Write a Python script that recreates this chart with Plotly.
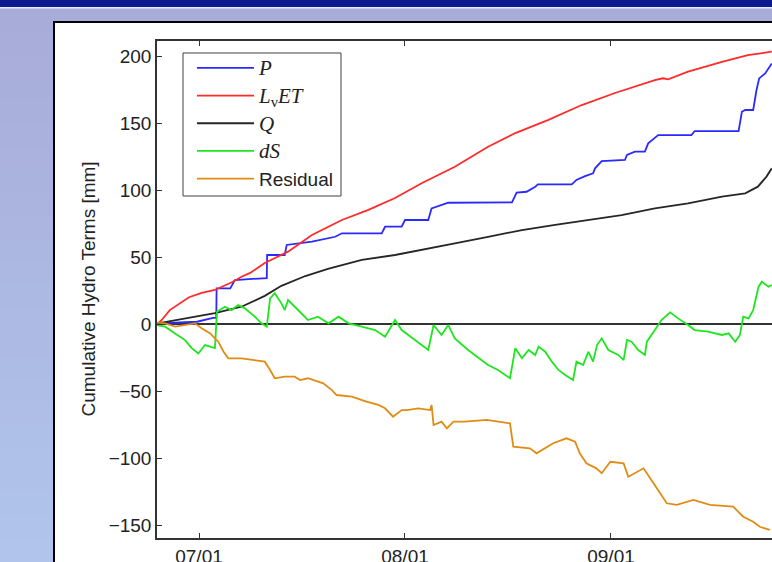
import pandas as pd
import plotly.graph_objects as go

# Cumulative hydrological terms over the 2011 growing season.
# Time axis is day of year (DOY); values are cumulative mm.
YEAR_START = pd.Timestamp("2011-01-01")

doy_P = [175.7, 181.7, 184.1, 184.6, 184.65, 186.7, 187.4, 191.9, 192.2, 192.25, 194.9, 195.2,
         196.9, 199.0, 202.5, 203.5, 209.5, 210.0, 212.5, 213.0, 216.5, 217.0, 219.5, 229.1,
         229.8, 231.3, 232.6, 233.0, 238.1, 238.8, 240.1, 241.3, 241.6, 242.6, 246.1, 246.4,
         247.6, 249.1, 249.6, 250.6, 251.1, 256.1, 256.6, 263.2, 263.7, 264.2, 265.4, 265.9,
         266.3, 267.2, 268.2]
P = [0.5, 1.7, 4.5, 4.5, 26.6, 26.6, 32.8, 33.8, 34.3, 51.5, 51.5, 59.0,
     60.2, 61.4, 65.1, 67.7, 67.7, 72.6, 72.6, 77.6, 77.6, 86.3, 90.5, 90.8,
     98.0, 98.7, 102.5, 104.2, 104.2, 107.5, 110.4, 112.4, 116.2, 121.6, 122.4, 126.1,
     128.6, 128.6, 134.8, 139.1, 141.0, 141.0, 144.0, 144.0, 158.4, 159.7, 159.7, 174.6,
     183.3, 187.0, 194.5]

doy_ET = [175.8, 176.4, 177.6, 180.5, 182.4, 184.4, 187.1, 188.4, 189.7, 191.9, 195.4, 199.0,
          203.5, 207.4, 211.5, 215.5, 220.5, 225.5, 229.6, 234.5, 239.6, 244.6, 250.6, 251.8,
          252.6, 255.6, 260.7, 264.6, 268.2]
LvET = [0.0, 3.0, 10.4, 20.0, 23.2, 25.4, 31.5, 35.3, 38.1, 45.5, 54.0, 66.4,
        77.6, 85.0, 94.0, 105.0, 117.4, 132.3, 142.5, 152.2, 163.4, 172.4, 182.0, 183.4,
        182.6, 188.3, 195.7, 200.7, 203.2]

doy_Q = [175.8, 180.3, 184.4, 188.4, 191.9, 194.4, 198.0, 201.4, 206.5, 211.5, 215.5, 220.5,
         225.5, 230.6, 235.6, 240.6, 245.6, 250.6, 255.6, 260.7, 264.2, 266.1, 267.4, 268.2]
Q = [0.5, 4.5, 8.2, 12.9, 21.0, 28.5, 35.8, 41.2, 47.8, 51.5, 55.2, 60.2,
     65.1, 70.1, 73.9, 77.6, 81.3, 86.3, 90.1, 95.0, 97.5, 102.5, 110.0, 116.2]

doy_dS = [175.6, 176.9, 178.4, 179.9, 180.9, 181.9, 182.9, 183.9, 184.4, 184.7, 185.9, 186.9,
          187.9, 188.9, 190.4, 191.4, 192.2, 192.7, 193.4, 194.4, 194.9, 195.4, 196.9, 198.4,
          199.9, 201.5, 203.0, 204.5, 206.5, 208.5, 210.0, 211.5, 212.5, 214.5, 216.5, 217.3,
          218.5, 219.5, 220.5, 222.5, 225.5, 227.0, 228.8, 229.6, 230.6, 231.6, 232.6, 233.1,
          234.1, 235.1, 236.1, 237.1, 238.3, 238.8, 239.8, 240.6, 241.3, 241.9, 242.6, 243.6,
          245.1, 245.9, 246.4, 247.1, 248.1, 249.1, 249.4, 250.6, 251.6, 252.9, 254.1, 255.6,
          256.6, 258.6, 260.7, 261.7, 262.7, 263.4, 263.9, 264.7, 265.4, 266.2, 266.7, 267.7,
          268.2]
dS = [-0.7, -2.0, -7.0, -12.0, -18.0, -22.0, -15.7, -17.0, -18.0, 9.2, 12.9, 10.4,
      14.2, 11.7, 5.5, 0.5, -2.0, 19.2, 22.9, 15.4, 10.4, 17.9, 10.4, 3.0,
      5.5, 0.5, 5.5, 0.5, -2.0, -4.5, -9.5, 3.0, -4.5, -12.0, -19.4, -0.7,
      -8.2, -0.7, -10.7, -19.4, -30.6, -34.3, -40.5, -18.1, -25.6, -19.4, -23.1, -16.9,
      -20.7, -28.1, -34.3, -38.1, -41.8, -28.1, -30.6, -20.7, -28.1, -15.7, -10.7, -19.4,
      -23.1, -26.9, -11.9, -13.2, -19.4, -23.1, -13.2, -4.5, 3.0, 8.7, 4.2, -0.7,
      -4.5, -5.7, -8.2, -7.0, -13.2, -8.2, 5.5, 4.2, 10.4, 27.8, 31.6, 27.8,
      29.1]

doy_R = [175.6, 176.9, 178.4, 179.9, 181.4, 182.4, 183.7, 184.4, 184.9, 185.7, 186.4, 188.4,
         190.4, 191.9, 192.7, 193.4, 194.9, 196.4, 197.2, 198.4, 200.7, 202.0, 202.7, 205.0,
         207.2, 209.0, 210.0, 211.2, 212.5, 213.3, 215.0, 216.8, 217.0, 217.3, 218.5, 219.3,
         220.3, 222.0, 225.3, 228.8, 229.3, 231.8, 232.8, 235.3, 237.3, 238.6, 239.3, 240.3,
         241.8, 242.6, 243.9, 245.9, 246.6, 248.9, 250.4, 252.4, 253.9, 256.4, 258.9, 262.4,
         263.9, 265.4, 266.4, 267.9]
Residual = [1.0, 0.5, -2.0, -0.7, 0.5, -3.2, -7.0, -10.7, -13.2, -20.7, -25.6, -25.6,
            -26.9, -28.1, -34.3, -40.5, -39.3, -39.3, -41.8, -40.5, -44.3, -49.3, -53.0, -54.2,
            -58.0, -60.4, -62.9, -69.2, -64.2, -64.2, -62.9, -64.2, -60.4, -75.4, -72.9, -77.9,
            -72.9, -72.9, -71.6, -74.1, -91.6, -92.8, -96.5, -89.0, -85.3, -87.8, -96.5, -104.0,
            -107.7, -111.4, -102.8, -104.0, -114.0, -107.7, -118.9, -133.8, -135.0, -131.3, -135.0, -136.3,
            -143.8, -147.6, -151.3, -153.7]


def to_dates(doy):
    return YEAR_START + pd.to_timedelta([d - 1 for d in doy], unit="D")


SERIF = "'Liberation Serif', 'DejaVu Serif', serif"


def serif(label):
    return "<span style=\"font-family:%s;font-size:21px\">%s</span>" % (SERIF, label)


series = [
    (serif("<i>P</i>"), doy_P, P, "#2a2aff"),
    (serif("<i>L</i><sub>v</sub><i>ET</i>"), doy_ET, LvET, "#ff2a2a"),
    (serif("<i>Q</i>"), doy_Q, Q, "#262626"),
    (serif("<i>dS</i>"), doy_dS, dS, "#1ee61e"),
    ("Residual", doy_R, Residual, "#e08c14"),
]

fig = go.Figure()
for name, doy, vals, color in series:
    fig.add_trace(go.Scatter(
        x=to_dates(doy), y=vals, mode="lines", name=name,
        line=dict(color=color, width=1.8),
    ))

# plot-area geometry in pixels, used to place the slide decorations
W, H = 772, 562
L, R, T, B = 157, 0, 41, 24
pw, ph = W - L - R, H - T - B


def px(xp):
    return (xp - L) / pw


def py(yp):
    return (H - B - yp) / ph


shapes = []
# slide background: lavender with a soft vertical gradient
top_c = (168, 172, 216)
bot_c = (176, 196, 236)
n = 24
for k in range(n):
    f = k / (n - 1)
    c = tuple(int(round(top_c[j] + (bot_c[j] - top_c[j]) * f)) for j in range(3))
    y0 = 8 + (H - 8) * k / n
    y1 = 8 + (H - 8) * (k + 1) / n + 1
    shapes.append(dict(type="rect", xref="paper", yref="paper", layer="below",
                       x0=px(0), x1=px(W), y0=py(y1), y1=py(y0),
                       fillcolor="rgb(%d,%d,%d)" % c, line_width=0))
# dark title band and thin highlight line
shapes.append(dict(type="rect", xref="paper", yref="paper", layer="below",
                   x0=px(0), x1=px(W), y0=py(7), y1=py(0),
                   fillcolor="#0b1a8e", line_width=0))
shapes.append(dict(type="rect", xref="paper", yref="paper", layer="below",
                   x0=px(0), x1=px(W), y0=py(8.5), y1=py(7),
                   fillcolor="#e8ecf8", line_width=0))
# white figure panel with black frame
shapes.append(dict(type="rect", xref="paper", yref="paper", layer="below",
                   x0=px(54), x1=px(W + 10), y0=py(H + 10), y1=py(22),
                   fillcolor="white", line=dict(color="black", width=2)))
# legend frame
shapes.append(dict(type="rect", xref="paper", yref="paper", layer="above",
                   x0=px(183), x1=px(341), y0=py(196), y1=py(53),
                   fillcolor="white", line=dict(color="#404040", width=1)))

fig.update_layout(
    width=W, height=H, autosize=False,
    margin=dict(l=L, r=R, t=T, b=B, pad=0),
    paper_bgcolor="#a8acd8", plot_bgcolor="rgba(0,0,0,0)",
    font=dict(family="Liberation Sans, Arial, sans-serif", size=19, color="#222"),
    shapes=shapes,
    showlegend=True,
    legend=dict(x=px(192), y=py(49), xanchor="left", yanchor="top",
                bgcolor="rgba(0,0,0,0)", borderwidth=0,
                font=dict(size=19, color="#222"), tracegroupgap=0, itemwidth=57),
    annotations=[dict(text="Cumulative Hydro Terms [mm]", xref="paper", yref="paper",
                      x=px(88), y=0.5, xanchor="center", yanchor="middle",
                      textangle=-90, showarrow=False,
                      font=dict(size=19, color="#222"))],
)

fig.update_xaxes(
    type="date", automargin=False,
    range=[to_dates([175.68])[0], to_dates([268.23])[0]],
    tick0="2011-07-01", dtick="M1", tickformat="%m/%d",
    ticks="inside", ticklen=5, tickcolor="#333", tickwidth=1,
    showline=True, linecolor="#333", linewidth=1.5, mirror="ticks",
    showgrid=False, zeroline=False,
    tickfont=dict(size=19, color="#222"),
)
fig.update_yaxes(
    automargin=False,
    range=[-159.7, 211.2], tick0=0, dtick=50,
    ticks="inside", ticklen=5, tickcolor="#333", tickwidth=1,
    showline=True, linecolor="#333", linewidth=1.5,
    showgrid=False, zeroline=True, zerolinecolor="#333", zerolinewidth=1.5,
    tickfont=dict(size=19, color="#222"),
)

fig.write_html("out.html")
